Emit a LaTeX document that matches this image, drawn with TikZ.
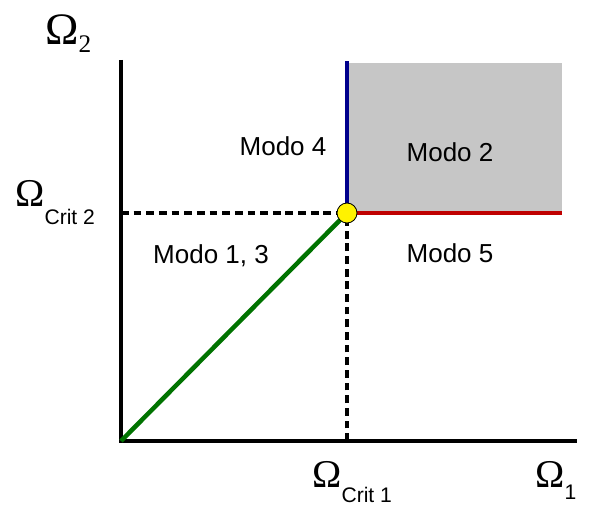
\documentclass[tikz,border=0pt]{standalone}
\usepackage{fontspec}
\setmainfont{Liberation Sans}
\newfontfamily\omegafont{Liberation Serif}

\newcommand{\omlabel}[2]{{\omegafont\fontsize{28}{30}\selectfont Ω}\raisebox{-#2}{\fontsize{15}{16}\selectfont #1}}

\tikzset{
	modo/.style={font=\fontsize{18.5}{20}\selectfont, inner sep=0pt},
	eixo/.style={line width=2.4pt},
	guia/.style={line width=2.4pt, dash pattern=on 5.5pt off 3.5pt},
	omega/.style={anchor=base west, inner sep=0pt}
}

\begin{document}
\begin{tikzpicture}

\useasboundingbox (-3.025,-1.7) rectangle (11.725,11.025);

\coordinate (O) at (0,0);
\coordinate (X) at (11.4,0);
\coordinate (Y) at (0,9.525);
\coordinate (C) at (5.65,5.7);
\coordinate (Cx) at (5.65,0);
\coordinate (Cy) at (0,5.7);
\coordinate (T) at (5.65,9.5);
\coordinate (R) at (11.025,5.7);
\coordinate (RT) at (11.025,9.45);

% Region gris
\fill[gray!45] (C) rectangle (RT);

% Ejes
\draw[eixo] (Y) -- (O) -- (X);

% Lineas de guia
\draw[guia] (Cy) -- (C);
\draw[guia] (Cx) -- (C);

% Fronteras
\draw[line width=3.2pt, green!45!black] (O) -- (C);
\draw[line width=3.2pt, blue!55!black] (C) -- (T);
\draw[line width=3.2pt, red!75!black] (C) -- (R);

\node[circle, draw, fill=yellow, minimum size=5mm, inner sep=0pt, line width=0.6pt] (P) at (C) {};

% Etiquetas
\node[modo] (m4) at (4.05,7.375) {Modo 4};
\node[modo] (m2) at (8.225,7.225) {Modo 2};
\node[modo] (m13) at (2.25,4.625) {Modo 1, 3};
\node[modo] (m5) at (8.225,4.7) {Modo 5};

\node[omega] (w2) at (-1.9,9.9) {{\omegafont\fontsize{32}{34}\selectfont Ω}\raisebox{-5pt}{\omegafont\fontsize{18}{20}\selectfont 2}};
\node[omega] (wc2) at (-2.65,5.85) {\omlabel{Crit 2}{12.5pt}};
\node[omega] (wc1) at (4.775,-1.15) {\omlabel{Crit 1}{10.7pt}};
\node[omega] (w1) at (10.35,-1.15) {\omlabel{1}{9pt}};

\end{tikzpicture}
\end{document}
